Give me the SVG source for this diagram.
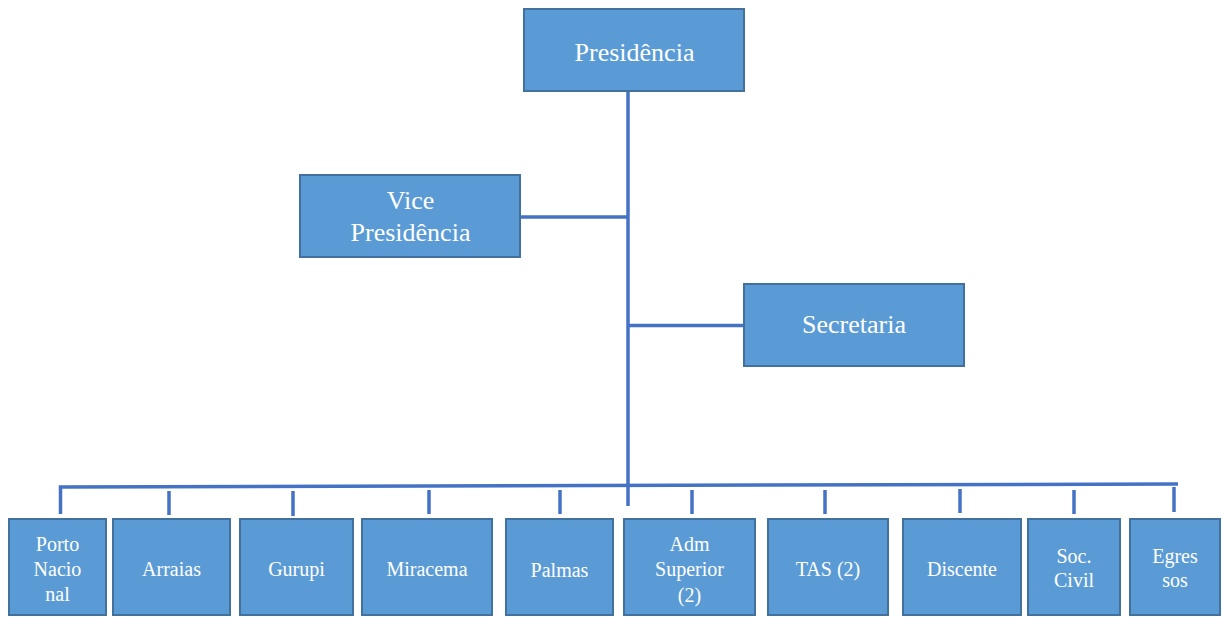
<svg xmlns="http://www.w3.org/2000/svg" width="1222" height="617" viewBox="0 0 1222 617">
<style>
.box{fill:#5B9BD5;stroke:#41719C;stroke-width:2}
.t{fill:#FFFFFF;font-family:"Liberation Serif","Times New Roman",serif;text-anchor:middle}
.big{font-size:26px}
.sm{font-size:20px}
.c{stroke:#4472C4;stroke-width:3.5;fill:none}
</style>
<rect width="1222" height="617" fill="#FFFFFF"/>
<g id="connectors">
<line class="c" x1="628" y1="91" x2="628" y2="506"/>
<line class="c" x1="521" y1="217" x2="628" y2="217"/>
<line class="c" x1="628" y1="325.5" x2="744" y2="325.5"/>
<polyline class="c" points="60.5,514 60.5,487 1178,484"/>
<line class="c" x1="169" y1="491" x2="169" y2="515"/>
<line class="c" x1="293" y1="491" x2="293" y2="516"/>
<line class="c" x1="429" y1="490" x2="429" y2="514"/>
<line class="c" x1="560" y1="490" x2="560" y2="514"/>
<line class="c" x1="692" y1="490" x2="692" y2="514"/>
<line class="c" x1="825" y1="490" x2="825" y2="514"/>
<line class="c" x1="960" y1="489" x2="960" y2="513"/>
<line class="c" x1="1074" y1="490" x2="1074" y2="514"/>
<line class="c" x1="1174" y1="487" x2="1174" y2="512"/>
</g>
<g id="presidencia">
<rect class="box" x="524" y="9" width="220" height="82"/>
<text class="t big" x="634.5" y="61">Presidência</text>
</g>
<g id="vice">
<rect class="box" x="300" y="175" width="220" height="82"/>
<text class="t big" x="410.5" y="209">Vice</text>
<text class="t big" x="410.5" y="241">Presidência</text>
</g>
<g id="secretaria">
<rect class="box" x="744" y="284" width="220" height="82"/>
<text class="t big" x="854" y="333">Secretaria</text>
</g>
<g id="porto">
<rect class="box" x="9" y="519" width="97" height="96"/>
<text class="t sm" x="57.5" y="551">Porto</text>
<text class="t sm" x="57.5" y="576">Nacio</text>
<text class="t sm" x="57.5" y="601">nal</text>
</g>
<g id="arraias">
<rect class="box" x="113" y="519" width="117" height="96"/>
<text class="t sm" x="171.5" y="576">Arraias</text>
</g>
<g id="gurupi">
<rect class="box" x="240" y="519" width="113" height="96"/>
<text class="t sm" x="296.5" y="576">Gurupi</text>
</g>
<g id="miracema">
<rect class="box" x="362" y="519" width="130" height="96"/>
<text class="t sm" x="427" y="576">Miracema</text>
</g>
<g id="palmas">
<rect class="box" x="506" y="519" width="107" height="96"/>
<text class="t sm" x="559.5" y="577">Palmas</text>
</g>
<g id="adm">
<rect class="box" x="624" y="519" width="131" height="96"/>
<text class="t sm" x="689.5" y="551">Adm</text>
<text class="t sm" x="689.5" y="576">Superior</text>
<text class="t sm" x="689.5" y="602">(2)</text>
</g>
<g id="tas">
<rect class="box" x="768" y="519" width="120" height="96"/>
<text class="t sm" x="828" y="576">TAS (2)</text>
</g>
<g id="discente">
<rect class="box" x="903" y="519" width="118" height="96"/>
<text class="t sm" x="962" y="576">Discente</text>
</g>
<g id="soc">
<rect class="box" x="1028" y="519" width="92" height="96"/>
<text class="t sm" x="1074" y="563">Soc.</text>
<text class="t sm" x="1074" y="587">Civil</text>
</g>
<g id="egres">
<rect class="box" x="1130" y="519" width="90" height="96"/>
<text class="t sm" x="1175" y="563">Egres</text>
<text class="t sm" x="1175" y="587">sos</text>
</g>
</svg>
